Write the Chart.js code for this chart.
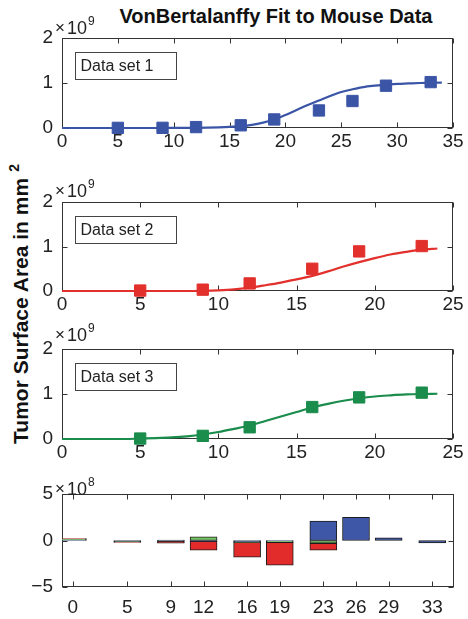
<!DOCTYPE html>
<html>
<head>
<meta charset="utf-8">
<script src="https://cdn.jsdelivr.net/npm/chart.js@4.4.1/dist/chart.umd.min.js"></script>
<style>
  html, body { margin: 0; padding: 0; background: #fff; }
  #fig { position: relative; width: 468px; height: 619px; overflow: hidden;
         font-family: "Liberation Sans", Arial, Helvetica, sans-serif; color: #111; }
  #fig canvas { position: absolute; left: 0; }
  #title { position: absolute; left: 76px; top: 6px; width: 400px; text-align: center;
           font-size: 20px; font-weight: bold; line-height: 20px; white-space: nowrap; }
  #ylab { position: absolute; left: -179px; top: 292px; width: 400px; height: 24px;
          text-align: center; font-size: 21px; font-weight: bold; line-height: 24px;
          transform: rotate(-90deg); transform-origin: 50% 50%; white-space: nowrap; }
  #ylab sup { font-size: 14px; line-height: 0; vertical-align: 9px; margin-left: 6px; }
</style>
</head>
<body>
<div id="fig">
  <div id="title">VonBertalanffy Fit to Mouse Data</div>
  <div id="ylab">Tumor Surface Area in mm<sup>2</sup></div>
</div>
<script>
// ---- Data set 1 (blue), values in units of 1e9 mm^2 ----
const times1 = [5, 9, 12, 16, 19, 23, 26, 29, 33];
const area1  = [0.003, 0.004, 0.02, 0.06, 0.19, 0.39, 0.60, 0.94, 1.02];
const fitTimes1 = [0, 1, 2, 3, 4, 5, 6, 7, 8, 9, 10, 11, 12, 13, 14, 15, 16, 17,
                   18, 19, 20, 21, 22, 23, 24, 25, 26, 27, 28, 29, 30, 31, 32, 33, 34];
const fitArea1  = [0, 0, 0, 0, 0, 0, 0, 0, 0, 0, 0.001, 0.002, 0.004, 0.008, 0.014, 0.024, 0.04, 0.07,
                   0.12, 0.19, 0.29, 0.40, 0.51, 0.61, 0.71, 0.80, 0.86, 0.91, 0.94, 0.965, 0.98, 0.99, 1.0, 1.005, 1.01];

// ---- Data set 2 (red) ----
const times2 = [5, 9, 12, 16, 19, 23];
const area2  = [0.01, 0.03, 0.17, 0.50, 0.89, 1.01];
const fitTimes2 = [0, 1, 2, 3, 4, 5, 6, 7, 8, 9, 10, 11, 12, 13, 14, 15, 16, 17, 18, 19, 20, 21, 22, 23, 24];
const fitArea2  = [0, 0, 0, 0, 0, 0, 0, 0, 0, 0.005, 0.015, 0.035, 0.075, 0.13, 0.19, 0.26, 0.34, 0.44,
                   0.55, 0.65, 0.74, 0.82, 0.88, 0.93, 0.955];

// ---- Data set 3 (green) ----
const times3 = [5, 9, 12, 16, 19, 23];
const area3  = [0.01, 0.07, 0.26, 0.71, 0.925, 1.03];
const fitTimes3 = [0, 1, 2, 3, 4, 5, 6, 7, 8, 9, 10, 11, 12, 13, 14, 15, 16, 17, 18, 19, 20, 21, 22, 23, 24];
const fitArea3  = [0, 0, 0, 0, 0, 0.01, 0.02, 0.035, 0.06, 0.10, 0.155, 0.225, 0.30, 0.40, 0.50, 0.60, 0.70,
                   0.78, 0.85, 0.905, 0.945, 0.97, 0.99, 1.0, 1.005];

// ---- Residuals (fit minus data), units of 1e8 mm^2 ----
const residTimes  = [0, 5, 9, 12, 16, 19, 23, 26, 29, 33];
const residBlue   = [0.05, -0.1, -0.05, -0.1, -0.15, -0.05, 2.1, 2.5, 0.3, -0.25];
const residGreen  = [0.1, -0.05, 0.05, 0.4, -0.05, -0.15, -0.3, null, null, null];
const residRed    = [0.05, -0.05, -0.25, -0.95, -1.6, -2.45, -0.75, null, null, null];

// tick labels
const areaTicks  = [0, 1, 2];
const residTicks = [-5, 0, 5];

const BLUE = '#3a54a6', RED = '#e2302c', GREEN = '#1a8c4c';
const BAR_BLUE = '#3f57a7', BAR_GREEN = '#76c462', BAR_RED = '#e22b2b';
const FONT = '"Liberation Sans", Arial, Helvetica, sans-serif';
const TICK_FONT = { family: FONT, size: 19 };
const INK = '#222';

const pairs = (xs, ys) => xs.map((x, i) => ({ x, y: ys[i] }));

// Axes box with inward MATLAB-style tick marks (under the data),
// exponent label and text box (over the data)
const framePlugin = {
  id: 'frame',
  beforeDatasetsDraw(chart) {
    const { ctx, chartArea: a, scales } = chart;
    const L = a.left + 0.5, R = a.right - 0.5, T = a.top + 0.5, B = a.bottom - 0.5;
    ctx.save();
    ctx.strokeStyle = '#333';
    ctx.lineWidth = 1;
    ctx.strokeRect(L, T, R - L, B - T);
    ctx.beginPath();
    scales.x.ticks.forEach(t => {
      const px = Math.round(scales.x.getPixelForValue(t.value)) + 0.5;
      ctx.moveTo(px, B); ctx.lineTo(px, B - 5);
      ctx.moveTo(px, T); ctx.lineTo(px, T + 5);
    });
    scales.y.ticks.forEach(t => {
      const py = Math.round(scales.y.getPixelForValue(t.value)) + 0.5;
      ctx.moveTo(L, py); ctx.lineTo(L + 5, py);
      ctx.moveTo(R, py); ctx.lineTo(R - 5, py);
    });
    ctx.stroke();
    ctx.restore();
  },
  afterDatasetsDraw(chart, args, opts) {
    const { ctx, chartArea: a } = chart;
    ctx.save();
    // exponent label  "× 10^n"
    const base = a.top + opts.expDy;
    ctx.fillStyle = INK;
    ctx.textBaseline = 'alphabetic';
    ctx.textAlign = 'left';
    ctx.font = `17px ${FONT}`;
    ctx.fillText('×', 55, base - 1);
    ctx.font = `18px ${FONT}`;
    ctx.fillText('10', 67, base);
    ctx.font = `12px ${FONT}`;
    ctx.fillText(opts.exp, 88, base - 9);

    // text box
    if (opts.label) {
      const bx = a.left + 13.5, by = a.top + 14.5, bw = 101, bh = 27;
      ctx.fillStyle = '#fff';
      ctx.fillRect(bx, by, bw, bh);
      ctx.strokeStyle = '#444';
      ctx.lineWidth = 1;
      ctx.strokeRect(bx, by, bw, bh);
      ctx.fillStyle = INK;
      ctx.font = `16px ${FONT}`;
      ctx.textBaseline = 'middle';
      ctx.fillText(opts.label, bx + 5, by + bh / 2 + 1);
    }
    ctx.restore();
  }
};

function makeCanvas(top, height) {
  const c = document.createElement('canvas');
  c.width = 468; c.height = height;
  c.style.top = top + 'px';
  c.style.width = '468px'; c.style.height = height + 'px';
  document.getElementById('fig').appendChild(c);
  return c;
}

function axisX(min, max, extra) {
  return Object.assign({
    type: 'linear', min, max,
    grid: { display: false, drawTicks: false },
    border: { display: false },
    ticks: { stepSize: 5, font: TICK_FONT, color: INK, padding: 2, maxRotation: 0, autoSkip: false },
    afterFit(s) { s.height = 26; }
  }, extra || {});
}

function axisY(min, max, tickVals, extra) {
  return Object.assign({
    type: 'linear', min, max,
    grid: { display: false, drawTicks: false },
    border: { display: false },
    afterBuildTicks(s) { s.ticks = tickVals.map(v => ({ value: v })); },
    ticks: { font: TICK_FONT, color: INK, padding: 9,
             callback: v => (v < 0 ? '\u2212' + Math.abs(v) : String(v)) },
    afterFit(s) { s.width = 62; }
  }, extra || {});
}

function growthPanel(top, height, xMax, times, area, fitT, fitA, color, label, expDy) {
  new Chart(makeCanvas(top, height), {
    type: 'scatter',
    data: {
      datasets: [
        { data: pairs(times, area), pointStyle: 'rect', pointRadius: 8, pointHoverRadius: 8,
          backgroundColor: color, borderColor: color, borderWidth: 1, showLine: false, clip: false },
        { data: pairs(fitT, fitA), showLine: true, borderColor: color, borderWidth: 2.2,
          pointRadius: 0, cubicInterpolationMode: 'monotone', fill: false, clip: false }
      ]
    },
    options: {
      responsive: false, animation: false, devicePixelRatio: 1,
      layout: { padding: { top: 28, right: 15, left: 0, bottom: 0 } },
      plugins: { legend: { display: false }, tooltip: { enabled: false },
                 frame: { exp: '9', label, expDy } },
      scales: { x: axisX(0, xMax), y: axisY(0, 2, areaTicks) }
    },
    plugins: [framePlugin]
  });
}

growthPanel(10, 144, 35, times1, area1, fitTimes1, fitArea1, BLUE, 'Data set 1', -4);
growthPanel(174, 143, 25, times2, area2, fitTimes2, fitArea2, RED, 'Data set 2', -5);
growthPanel(321, 144, 25, times3, area3, fitTimes3, fitArea3, GREEN, 'Data set 3', -8);

// residual bars, stacked per time point
const barSet = (vals, color) => ({
  data: pairs(residTimes, vals).filter(p => p.y !== null),
  backgroundColor: color, borderColor: '#1c1c1c', borderWidth: 1,
  borderSkipped: false, barThickness: 27
});

new Chart(makeCanvas(466, 153), {
  type: 'bar',
  data: { datasets: [barSet(residBlue, BAR_BLUE), barSet(residGreen, BAR_GREEN), barSet(residRed, BAR_RED)] },
  options: {
    responsive: false, animation: false, devicePixelRatio: 1,
    layout: { padding: { top: 28, right: 14, left: 0, bottom: 0 } },
    plugins: { legend: { display: false }, tooltip: { enabled: false },
               frame: { exp: '8', label: null, expDy: 1 } },
    scales: {
      x: axisX(-1, 35, {
        stacked: true,
        offset: false,
        afterBuildTicks(s) { s.ticks = residTimes.map(v => ({ value: v })); },
        ticks: { font: TICK_FONT, color: INK, padding: 9, maxRotation: 0, autoSkip: false },
        afterFit(s) { s.height = 32; }
      }),
      y: axisY(-5, 5, residTicks, { stacked: true })
    }
  },
  plugins: [framePlugin]
});
</script>
</body>
</html>
